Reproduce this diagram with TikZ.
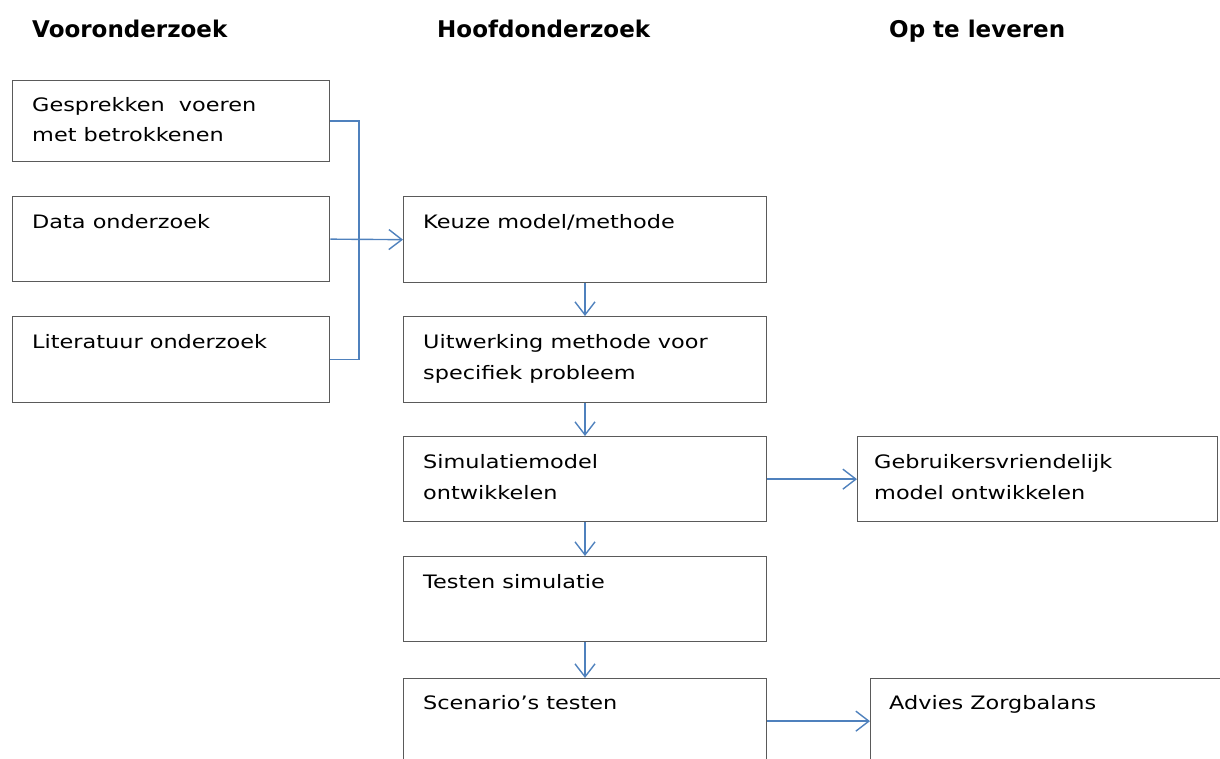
\documentclass[tikz,border=0pt]{standalone}
\usepackage{fontspec}
\setmainfont{DejaVu Sans}[FakeStretch=1.21]
\newfontfamily\hfont{DejaVu Sans}
\usetikzlibrary{arrows.meta,calc}
\definecolor{linkblue}{RGB}{79,129,189}
\definecolor{boxgray}{RGB}{90,90,90}
\tikzset{
  box/.style={draw=boxgray, line width=1.3pt, rectangle, inner sep=0pt, anchor=north west},
  txt/.style={anchor=north west, inner sep=0pt, align=left, font=\fontsize{18.5}{30.5}\selectfont},
  head/.style={anchor=base west, inner sep=0pt, font=\hfont\bfseries\fontsize{23}{27}\selectfont},
  link/.style={draw=linkblue, line width=1.4pt},
  arr/.style={link, -{Straight Barb[length=13pt,width=20pt,line width=1.4pt]}}
}
\begin{document}
\begin{tikzpicture}[x=1pt,y=-1pt]
\useasboundingbox (0,0) rectangle (1220,758);
\clip (0,0) rectangle (1220,758);

% headings
\node[head] (h1) at (32,37) {Vooronderzoek};
\node[head] (h2) at (437,37) {Hoofdonderzoek};
\node[head] (h3) at (889,37) {Op te leveren};

% left column
\node[box, minimum width=317pt, minimum height=81pt] (b1) at (12,80) {};
\node[box, minimum width=317pt, minimum height=85pt] (b2) at (12,196) {};
\node[box, minimum width=317pt, minimum height=86pt] (b3) at (12,316) {};

% middle column
\node[box, minimum width=363pt, minimum height=86pt] (m1) at (403,196) {};
\node[box, minimum width=363pt, minimum height=86pt] (m2) at (403,316) {};
\node[box, minimum width=363pt, minimum height=85pt] (m3) at (403,436) {};
\node[box, minimum width=363pt, minimum height=85pt] (m4) at (403,556) {};
\node[box, minimum width=363pt, minimum height=85pt] (m5) at (403,678) {};

% right column
\node[box, minimum width=360pt, minimum height=85pt] (r1) at (857,436) {};
\node[box, minimum width=380pt, minimum height=85pt] (r2) at (870,678) {};

% texts
\node[txt] (t1) at ($(b1.north west)+(20,17)$) {Gesprekken~~voeren\\met betrokkenen};
\node[txt] (t2) at ($(b2.north west)+(20,18.5)$) {Data onderzoek};
\node[txt] (t3) at ($(b3.north west)+(20,18.5)$) {Literatuur onderzoek};
\node[txt] (t4) at ($(m1.north west)+(20,18.5)$) {Keuze model/methode};
\node[txt] (t5) at ($(m2.north west)+(20,18.5)$) {Uitwerking methode voor\\specifiek probleem};
\node[txt] (t6) at ($(m3.north west)+(20,18.5)$) {Simulatiemodel\\ontwikkelen};
\node[txt] (t7) at ($(m4.north west)+(20,18.5)$) {Testen simulatie};
\node[txt] (t8) at ($(m5.north west)+(20,17.5)$) {Scenario’s testen};
\node[txt] (t9) at ($(r1.north west)+(17,18.5)$) {Gebruikersvriendelijk\\model ontwikkelen};
\node[txt] (t10) at ($(r2.north west)+(19,17.5)$) {Advies Zorgbalans};

% bracket
\coordinate (j) at (359,0);
\draw[link] (b1.east) -| (j |- b3.east) -- (b3.east);
\draw[arr] (b2.east) -- (m1.west);

% vertical arrows
\draw[arr] (m1.south -| 585,0) -- (m2.north -| 585,0);
\draw[arr] (m2.south -| 585,0) -- (m3.north -| 585,0);
\draw[arr] (m3.south -| 585,0) -- (m4.north -| 585,0);
\draw[arr] (m4.south -| 585,0) -- (m5.north -| 585,0);

% horizontal arrows
\draw[arr] (m3.east) -- (r1.west);
\draw[arr] (m5.east) -- (m5.east -| r2.west);
\end{tikzpicture}
\end{document}
